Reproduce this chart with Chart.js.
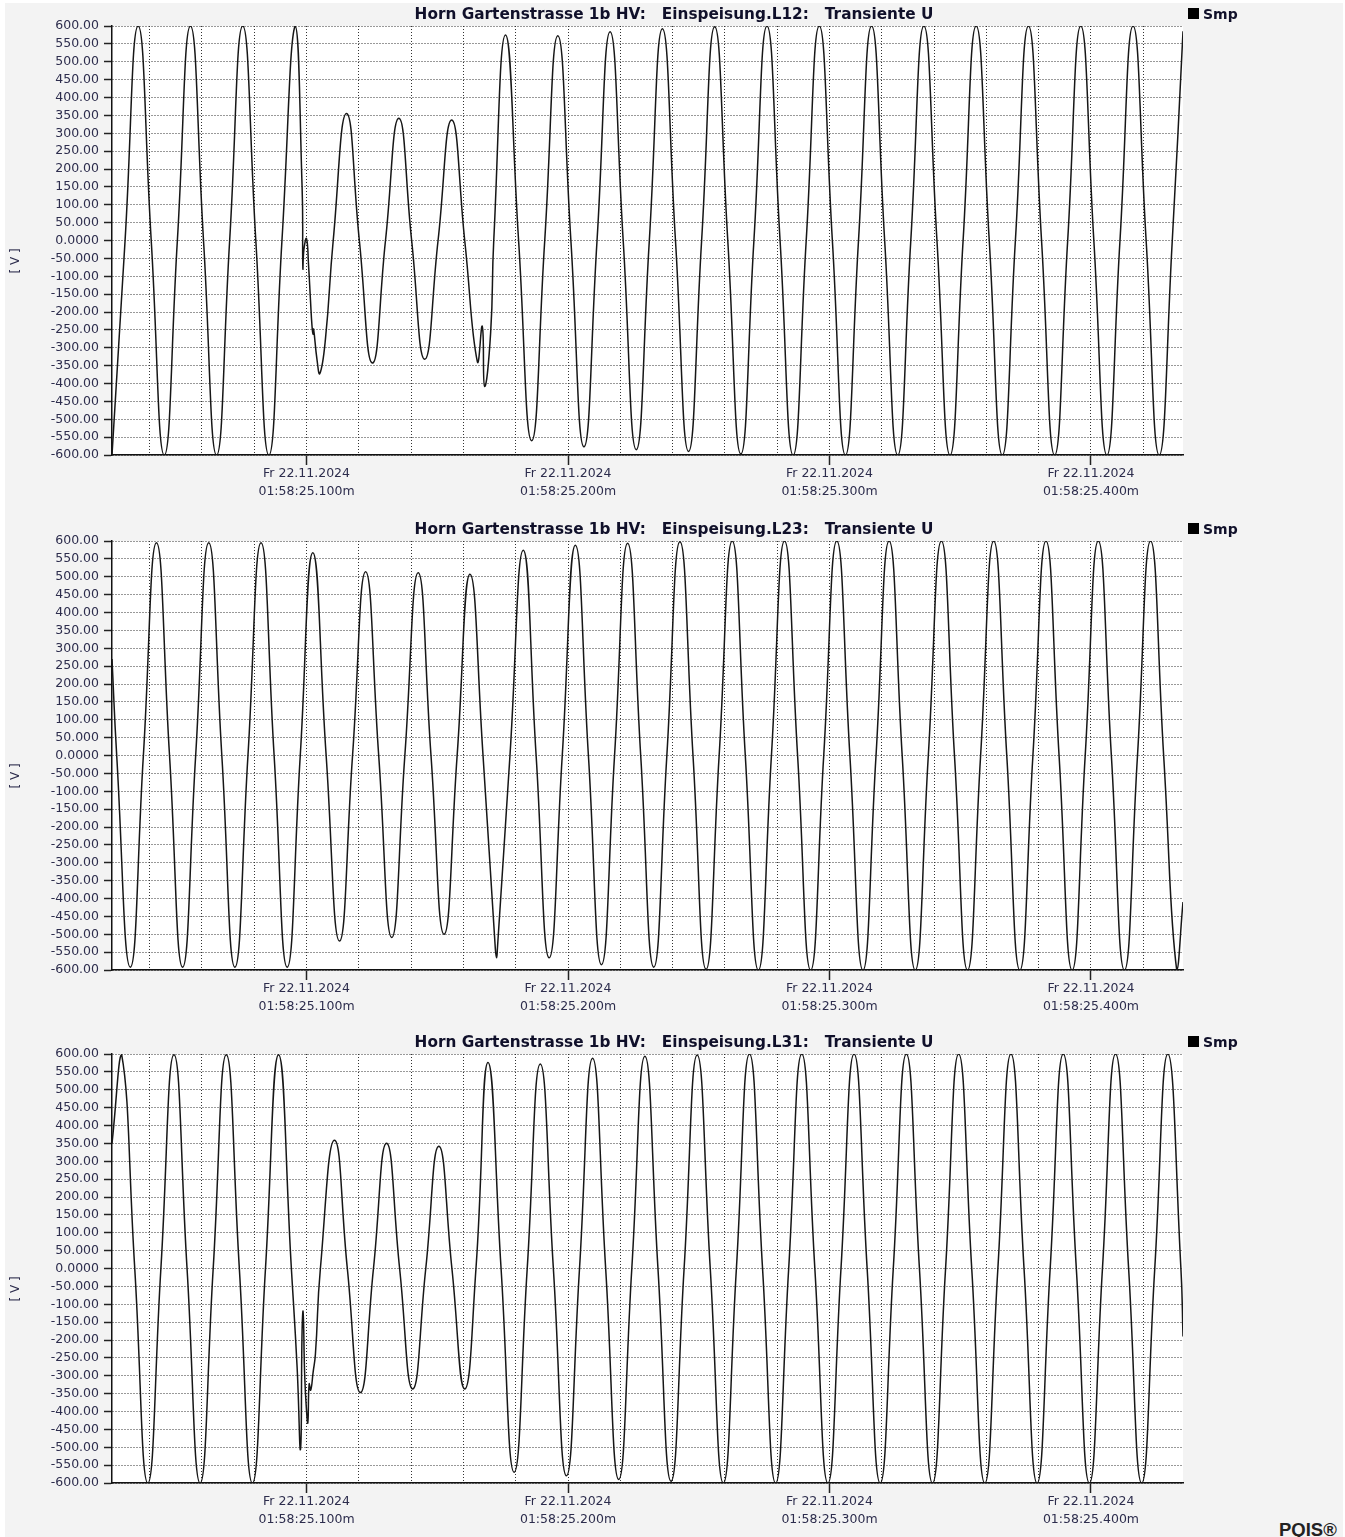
<!DOCTYPE html>
<html>
<head>
<meta charset="utf-8">
<script src="https://cdn.jsdelivr.net/npm/chart.js@4.4.1/dist/chart.umd.min.js"></script>
<style>
  html, body { margin: 0; padding: 0; background: #fff; }
  body { width: 1345px; height: 1537px; position: relative; overflow: hidden; font-family: 'DejaVu Sans', sans-serif; }
  #sheet { position: absolute; left: 5px; top: 3px; width: 1338px; height: 1534px; background: #f3f3f3; }
  .panel { position: absolute; left: 0; width: 1345px; height: 514px; }
  .panel canvas { position: absolute; left: 0; top: 0; }
  .title { position: absolute; left: 0; width: 1348px; top: 5px; text-align: center; white-space: pre;
           font: bold 15.3px 'DejaVu Sans', sans-serif; line-height: 18px; color: #10102a; }
  .legend-box { position: absolute; left: 1188px; top: 8px; width: 11px; height: 11px; background: #000; }
  .legend-text { position: absolute; left: 1203px; top: 5px; font: bold 14px 'DejaVu Sans', sans-serif; line-height: 18px; color: #10102a; }
  .unit { position: absolute; left: -8px; top: 252px; width: 46px; text-align: center; transform: rotate(-90deg);
          font: 12px 'DejaVu Sans', sans-serif; line-height: 18px; color: #2d2d4d; white-space: pre; }
  #brand { position: absolute; left: 1279px; top: 1519px; font: bold 18.5px 'Liberation Sans', Arial, sans-serif; color: #222; }
</style>
</head>
<body>
<div id="sheet"></div>
<div id="brand">PQIS®</div>

<script>
// time axis in ms after 01:58:25.000
const xMin = 25.6;
const xMax = 435.2;
const xGridTimes = [40, 60, 80, 100, 120, 140, 160, 180, 200, 220, 240, 260, 280, 300, 320, 340, 360, 380, 400, 420];
const xLabelTimes = [100, 200, 300, 400];
const xTickLabels = [
    ['Fr 22.11.2024', '01:58:25.100m'],
    ['Fr 22.11.2024', '01:58:25.200m'],
    ['Fr 22.11.2024', '01:58:25.300m'],
    ['Fr 22.11.2024', '01:58:25.400m']
];

const yTickValues = [-600, -550, -500, -450, -400, -350, -300, -250, -200, -150, -100, -50, 0,
    50, 100, 150, 200, 250, 300, 350, 400, 450, 500, 550, 600];
const yTickLabels = ['-600.00', '-550.00', '-500.00', '-450.00', '-400.00', '-350.00', '-300.00', '-250.00',
    '-200.00', '-150.00', '-100.00', '-50.000', '0.0000', '50.000', '100.00', '150.00', '200.00', '250.00',
    '300.00', '350.00', '400.00', '450.00', '500.00', '550.00', '600.00'];

const panelTitles = [
    'Horn Gartenstrasse 1b HV:   Einspeisung.L12:   Transiente U',
    'Horn Gartenstrasse 1b HV:   Einspeisung.L23:   Transiente U',
    'Horn Gartenstrasse 1b HV:   Einspeisung.L31:   Transiente U'
];
const legendLabel = 'Smp';
const unitLabel = '[ V ]';

// L12: peaks, zero crossings, troughs and fault samples
const l12Time = [
    25.6, 30.6, 35.6, 40.6, 45.6, 50.6, 55.6, 60.6, 65.6, 70.6, 75.6, 80.6, 85.6, 90.6, 95.6,
    98.3, 98.6, 99.0, 100.0, 100.8, 101.5, 102.1, 102.5, 102.7, 104.0, 105.1, 107.2, 110.2,
    115.3, 120.2, 125.2, 130.2, 135.3, 140.2, 145.2, 150.3, 155.5, 160.5,
    165.3, 167.2, 168.1, 170.4, 171.6, 176.1,
    181.1, 186.1, 191.1, 196.1, 201.1, 206.1, 211.1, 216.1, 221.1, 226.1,
    231.1, 236.1, 241.1, 246.1, 251.1, 256.1, 261.1, 266.1, 271.1, 276.1,
    281.1, 286.1, 291.1, 296.1, 301.1, 306.1, 311.1, 316.1, 321.1, 326.1,
    331.1, 336.1, 341.1, 346.1, 351.1, 356.1, 361.1, 366.1, 371.1, 376.1,
    381.1, 386.1, 391.1, 396.1, 401.1, 406.1, 411.1, 416.1, 421.1, 426.1,
    431.1, 435.2
];
const l12Volt = [
    -600, 0, 600, 0, -600, 0, 600, 0, -600, 0, 600, 0, -600, 0, 600,
    150, -77, -25, 5, -73, -166, -240, -262, -248, -333, -372, -278, 0,
    355, 0, -343, 0, 342, 0, -332, 0, 337, 0,
    -338, -240, -408, -259, 0, 575,
    0, -560, 0, 573, 0, -577, 0, 584, 0, -585,
    0, 592, 0, -590, 0, 598, 0, -597, 0, 600,
    0, -600, 0, 600, 0, -600, 0, 600, 0, -600,
    0, 600, 0, -600, 0, 600, 0, -600, 0, 600,
    0, -600, 0, 600, 0, -600, 0, 600, 0, -600,
    0, 585
];

// L23
const l23Time = [
    25.6, 27.4, 32.6, 37.6, 42.6, 47.6, 52.6, 57.6, 62.6, 67.6, 72.6, 77.6, 82.6, 87.6, 92.6, 97.6,
    102.4, 107.5, 112.6, 117.6, 122.6, 127.6, 132.6, 137.6, 142.7, 147.6, 152.6, 157.6, 162.5, 167.5,
    172.2, 172.7, 173.0, 177.8, 182.9, 187.8, 192.8,
    197.8, 202.8, 207.8, 212.8, 217.8, 222.8, 227.8, 232.8, 237.8, 242.8,
    247.8, 252.8, 257.8, 262.8, 267.8, 272.8, 277.8, 282.8, 287.8, 292.8,
    297.8, 302.8, 307.8, 312.8, 317.8, 322.8, 327.8, 332.8, 337.8, 342.8,
    347.8, 352.8, 357.8, 362.8, 367.8, 372.8, 377.8, 382.8, 387.8, 392.8,
    397.8, 402.8, 407.8, 412.8, 417.8, 422.8, 427.8, 432.8, 435.2
];
const l23Volt = [
    270, 0, -592, 0, 595, 0, -592, 0, 595, 0, -592, 0, 595, 0, -592, 0,
    567, 0, -519, 0, 514, 0, -509, 0, 511, 0, -500, 0, 507, 0,
    -540, -566, -540, 0, 574, 0, -566,
    0, 588, 0, -585, 0, 594, 0, -592, 0, 598,
    0, -598, 0, 600, 0, -600, 0, 600, 0, -600,
    0, 600, 0, -600, 0, 600, 0, -600, 0, 600,
    0, -600, 0, 600, 0, -600, 0, 600, 0, -600,
    0, 600, 0, -600, 0, 600, 0, -600, -410
];

// L31
const l31Time = [
    25.6, 29.3, 34.3, 39.3, 44.3, 49.3, 54.3, 59.3, 64.3, 69.3, 74.3, 79.3, 84.3, 89.3, 94.2, 96.4, 97.7,
    98.3, 98.7, 99.3, 100.0, 100.5, 101.0, 101.6, 102.5, 103.4, 105.3,
    110.7, 115.6, 120.6, 125.6, 130.6, 135.6, 140.6, 145.6, 150.6, 155.6, 160.5, 164.8, 169.4,
    174.4, 179.4, 184.4, 189.4, 194.4, 199.4, 204.4, 209.4, 214.4, 219.4,
    224.4, 229.4, 234.4, 239.4, 244.4, 249.4, 254.4, 259.4, 264.4, 269.4,
    274.4, 279.4, 284.4, 289.4, 294.4, 299.4, 304.4, 309.4, 314.4, 319.4,
    324.4, 329.4, 334.4, 339.4, 344.4, 349.4, 354.4, 359.4, 364.4, 369.4,
    374.4, 379.4, 384.4, 389.4, 394.4, 399.4, 404.4, 409.4, 414.4, 419.4,
    424.4, 429.4, 434.4, 435.2
];
const l31Volt = [
    350, 598, 0, -600, 0, 598, 0, -600, 0, 598, 0, -600, 0, 598, 0, -277, -505,
    -174, -122, -300, -398, -431, -323, -340, -291, -239, 0,
    359, 0, -347, 0, 350, 0, -337, 0, 342, 0, -337, 0, 576,
    0, -570, 0, 572, 0, -580, 0, 588, 0, -590,
    0, 594, 0, -595, 0, 597, 0, -600, 0, 600,
    0, -600, 0, 600, 0, -600, 0, 600, 0, -600,
    0, 600, 0, -600, 0, 600, 0, -600, 0, 600,
    0, -600, 0, 600, 0, -600, 0, 600, 0, -600,
    0, 600, 0, -190
];

const panelTops = [0, 515, 1028];

const plotBackground = {
    id: 'plotBackground',
    beforeDraw(chart) {
        const { ctx, chartArea } = chart;
        ctx.save();
        ctx.fillStyle = '#ffffff';
        ctx.fillRect(chartArea.left, chartArea.top, chartArea.right - chartArea.left, chartArea.bottom - chartArea.top);
        ctx.restore();
    }
};

function makePanel(index, times, volts) {
    const panel = document.createElement('div');
    panel.className = 'panel';
    panel.style.top = panelTops[index] + 'px';
    panel.innerHTML =
        '<canvas width="1345" height="514"></canvas>' +
        '<div class="title"></div>' +
        '<div class="legend-box"></div><div class="legend-text"></div>' +
        '<div class="unit"></div>';
    document.body.appendChild(panel);
    panel.querySelector('.title').textContent = panelTitles[index];
    panel.querySelector('.legend-text').textContent = legendLabel;
    panel.querySelector('.unit').textContent = unitLabel;

    const points = times.map((t, i) => ({ x: t, y: volts[i] }));
    const ctx = panel.querySelector('canvas').getContext('2d');

    new Chart(ctx, {
        type: 'line',
        data: {
            datasets: [{
                label: legendLabel,
                data: points,
                borderColor: '#161616',
                borderWidth: 1.5,
                pointRadius: 0,
                tension: 0.5,
                fill: false
            }]
        },
        options: {
            responsive: false,
            animation: false,
            events: [],
            layout: { padding: { left: 0, right: 162, top: 26, bottom: 0 } },
            plugins: {
                legend: { display: false },
                tooltip: { enabled: false },
                title: { display: false }
            },
            scales: {
                x: {
                    type: 'linear',
                    min: xMin,
                    max: xMax,
                    afterBuildTicks: axis => { axis.ticks = xGridTimes.map(v => ({ value: v })); },
                    afterFit: axis => { axis.height = 59; },
                    // border.dash is what v4 uses for the grid lines themselves
                    border: { display: true, color: '#111', width: 1.5, dash: [1, 2] },
                    grid: {
                        color: '#333',
                        lineWidth: 1,
                        tickLength: 10,
                        tickBorderDash: [],
                        tickWidth: 1.5,
                        tickColor: c => (c.tick && xLabelTimes.includes(c.tick.value)) ? '#222' : 'rgba(0,0,0,0)'
                    },
                    ticks: {
                        autoSkip: false,
                        maxRotation: 0,
                        padding: 0,
                        color: '#2d2d4d',
                        font: { family: 'DejaVu Sans', size: 12.5, lineHeight: 1.44 },
                        callback: value => {
                            const i = xLabelTimes.indexOf(value);
                            return i < 0 ? '' : xTickLabels[i];
                        }
                    }
                },
                y: {
                    min: -600,
                    max: 600,
                    afterBuildTicks: axis => { axis.ticks = yTickValues.map(v => ({ value: v })); },
                    afterFit: axis => { axis.width = 112; },
                    border: { display: true, color: '#111', width: 1.5, dash: [1, 2] },
                    grid: {
                        color: '#333',
                        lineWidth: 1,
                        tickLength: 8,
                        tickBorderDash: [],
                        tickWidth: 1.5,
                        tickColor: '#222'
                    },
                    ticks: {
                        autoSkip: false,
                        padding: 5,
                        color: '#2d2d4d',
                        font: { family: 'DejaVu Sans', size: 12.5 },
                        callback: value => yTickLabels[yTickValues.indexOf(value)]
                    }
                }
            }
        },
        plugins: [plotBackground]
    });
}

makePanel(0, l12Time, l12Volt);
makePanel(1, l23Time, l23Volt);
makePanel(2, l31Time, l31Volt);
</script>
</body>
</html>
